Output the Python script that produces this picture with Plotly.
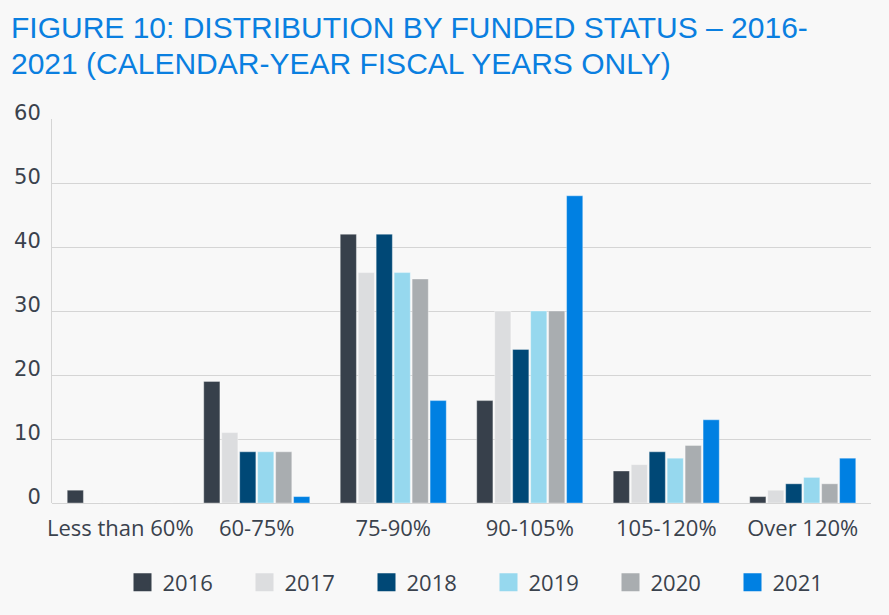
import plotly.graph_objects as go

categories = ["Less than 60%", "60-75%", "75-90%", "90-105%", "105-120%", "Over 120%"]
years = ["2016", "2017", "2018", "2019", "2020", "2021"]
v2016 = [2, 19, 42, 16, 5, 1]
v2017 = [0, 11, 36, 30, 6, 2]
v2018 = [0, 8, 42, 24, 8, 3]
v2019 = [0, 8, 36, 30, 7, 4]
v2020 = [0, 8, 35, 30, 9, 3]
v2021 = [0, 1, 16, 48, 13, 7]
series = [v2016, v2017, v2018, v2019, v2020, v2021]
colors = ["#37404b", "#dcdddf", "#004876", "#96d8ee", "#a9adb0", "#0080e2"]
title_lines = ["FIGURE 10: DISTRIBUTION BY FUNDED STATUS – 2016-",
               "2021 (CALENDAR-YEAR FISCAL YEARS ONLY)"]

font_x = "'Open Sans', sans-serif"
font_y = "'DejaVu Sans', sans-serif"
text_color = "#3a424d"

fig = go.Figure()
for y, vals, c in zip(years, series, colors):
    fig.add_trace(go.Bar(
        x=categories, y=vals, name=y, showlegend=False,
        marker=dict(color=c, line=dict(color="rgba(255,255,255,0.6)", width=0.6)),
    ))
# legend entries with larger square swatches
for y, c in zip(years, colors):
    fig.add_trace(go.Scatter(
        x=[None], y=[None], name=y, mode="markers",
        marker=dict(symbol="square", size=18, color=c, line=dict(color=c, width=2)),
    ))

fig.update_layout(
    width=889, height=615,
    paper_bgcolor="#f8f8f8", plot_bgcolor="#f8f8f8",
    margin=dict(l=52, r=18, t=119, b=112),
    barmode="group", bargap=0.21, bargroupgap=0.1,
    font=dict(family=font_x, color=text_color, size=20),
    showlegend=True,
    legend=dict(
        orientation="h", x=0.5 + 27 / 819, xanchor="center", y=-0.152, yanchor="top",
        entrywidth=77, entrywidthmode="pixels", itemsizing="trace",
        font=dict(size=22, color=text_color, family=font_x),
        traceorder="normal", bgcolor="rgba(0,0,0,0)",
    ),
    xaxis=dict(showgrid=False, ticks="", showline=False, ticklabelstandoff=10,
               tickfont=dict(size=22, family=font_x, color=text_color)),
    yaxis=dict(
        range=[0, 60], dtick=10, showgrid=True, gridcolor="#d5d5d5", gridwidth=1,
        showline=True, linecolor="#d5d5d5", linewidth=1,
        zeroline=True, zerolinecolor="#d5d5d5", zerolinewidth=1,
        ticks="", ticklabelstandoff=6, ticklabelshift=-6,
        tickfont=dict(size=21, family=font_y, color=text_color),
    ),
)

title_font = dict(family="'Liberation Sans', Arial, sans-serif", size=30, color="#0a7fe0")
for i, (line, ypx) in enumerate(zip(title_lines, [28, 64])):
    fig.add_annotation(
        text=line, showarrow=False,
        xref="paper", yref="paper",
        x=(9 - 52) / 819, xanchor="left",
        y=(503 - ypx) / 384, yanchor="middle",
        font=title_font,
    )

fig.write_html("out.html", config={"displayModeBar": False},
               post_script="document.body.style.margin='0';")
